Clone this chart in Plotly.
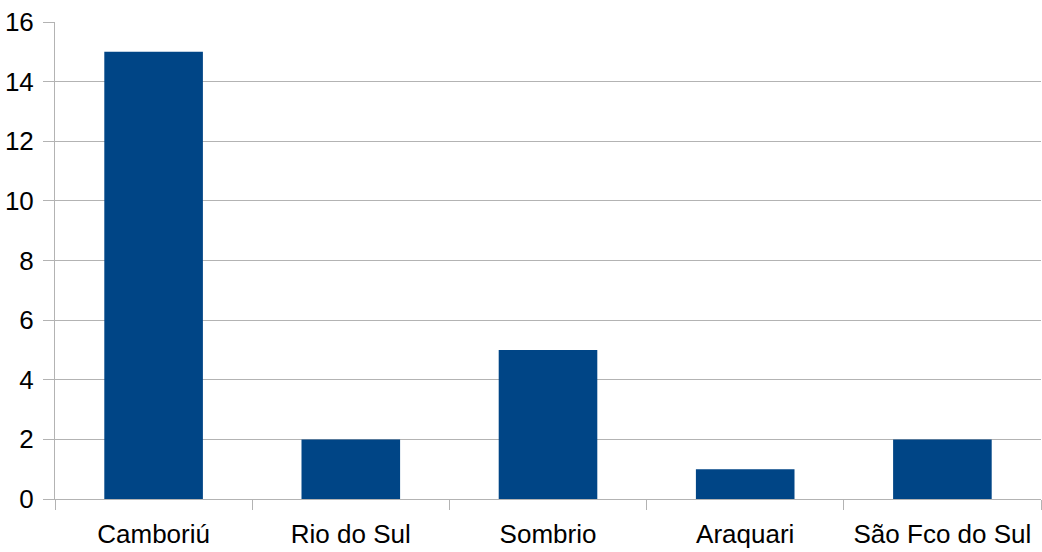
import plotly.graph_objects as go

categories = ["Camboriú", "Rio do Sul", "Sombrio", "Araquari", "São Fco do Sul"]
values = [15, 2, 5, 1, 2]
y_ticks = [0, 2, 4, 6, 8, 10, 12, 14, 16]

fig = go.Figure(go.Bar(x=categories, y=values, marker_color="#004586", width=0.5,
                       marker_line_width=0))

fig.update_layout(
    width=1042, height=552,
    margin=dict(l=55, r=1, t=22, b=53),
    plot_bgcolor="white", paper_bgcolor="white",
    font=dict(family="Liberation Sans, Arial, sans-serif", size=26, color="black"),
    showlegend=False,
    bargap=0.5,
)
fig.update_xaxes(
    showline=True, linecolor="#b3b3b3", linewidth=1,
    ticks="outside", ticklen=10, tickcolor="#b3b3b3", tickson="boundaries",
    showgrid=False, ticklabelstandoff=12, automargin=False,
    tickfont=dict(size=26),
)
fig.update_yaxes(
    range=[0, 16], tickvals=y_ticks, showgrid=True, gridcolor="#b3b3b3", gridwidth=1,
    showline=True, linecolor="#b3b3b3", linewidth=1,
    ticks="outside", ticklen=11, tickcolor="#b3b3b3", zeroline=False,
    ticklabelstandoff=4, tickfont=dict(size=26), automargin=False,
)
fig.write_html("out.html", config={"displayModeBar": False},
               post_script="document.body.style.margin='0';document.body.style.padding='0';")
